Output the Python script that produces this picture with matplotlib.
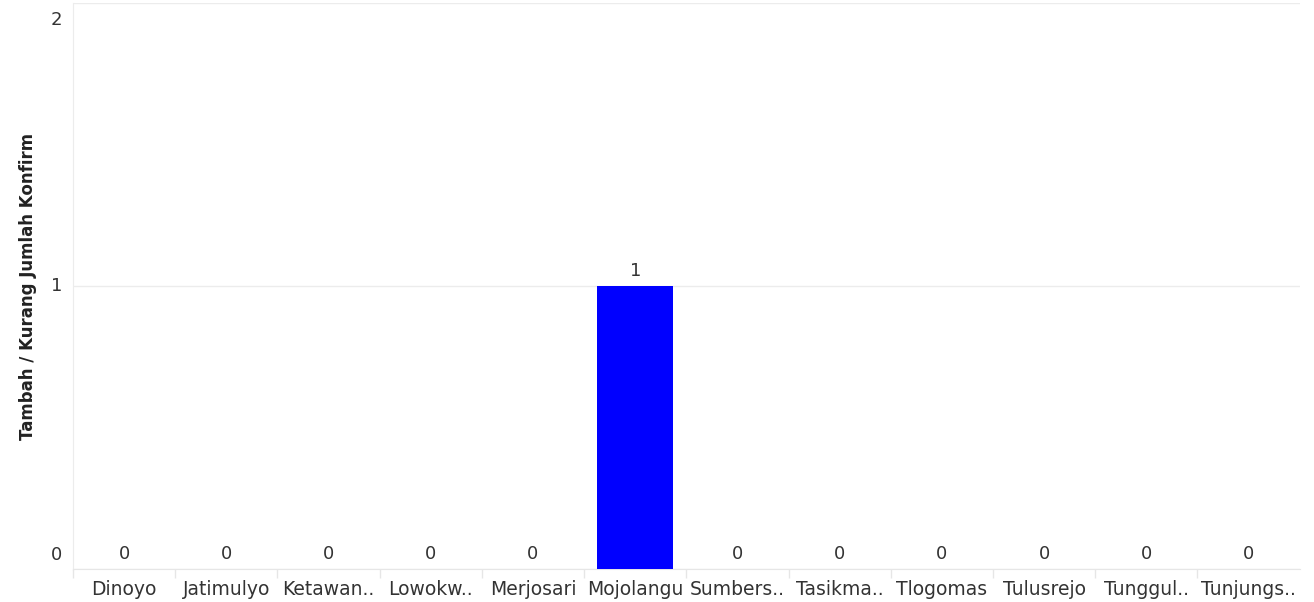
import matplotlib
matplotlib.use('Agg')
import matplotlib.pyplot as plt
import numpy as np

kelurahan = ['Dinoyo', 'Jatimulyo', 'Ketawan..', 'Lowokw..', 'Merjosari', 'Mojolangu',
             'Sumbers..', 'Tasikma..', 'Tlogomas', 'Tulusrejo', 'Tunggul..', 'Tunjungs..']
tambah = [0, 0, 0, 0, 0, 1, 0, 0, 0, 0, 0, 0]
yticks = [0, 1, 2]

fig = plt.figure(figsize=(13.14, 6.02), dpi=100)
ax = fig.add_axes([0.0556, 0.0548, 0.9334, 0.9402])

x = np.arange(len(kelurahan))
ax.bar(x, tambah, width=0.74, color='#0000ff', zorder=3)

for xi, v in zip(x, tambah):
    ax.annotate(str(v), (xi, v), xytext=(0, 4.5), textcoords='offset points',
                ha='center', va='bottom', fontsize=13, color='#333333')

ax.set_xlim(-0.5, len(kelurahan) - 0.5)
ax.set_ylim(0, 2)
ax.set_yticks(yticks)
ax.set_yticklabels([])
ax.set_xticks(x)
ax.set_xticklabels(kelurahan, fontsize=13.5, color='#333333')
ax.tick_params(axis='both', length=0, pad=8)

# y tick labels, nudged like the original (0 up, 2 down)
shifts = [10, 0, -12]
for t, dy in zip(yticks, shifts):
    ax.annotate(str(t), (0, t), xycoords=('axes fraction', 'data'),
                xytext=(-8, dy), textcoords='offset points',
                ha='right', va='center', fontsize=13, color='#333333',
                annotation_clip=False)

ax.grid(axis='y', color='#ececec', linewidth=1, zorder=0)
for s in ['top', 'right']:
    ax.spines[s].set_visible(False)
ax.spines['left'].set_color('#ececec')
ax.spines['bottom'].set_color('#e6e6e6')

# category separators under the axis
bounds = np.arange(len(kelurahan) + 1) - 0.5
ax.vlines(bounds[:-1], -0.016, 0, transform=ax.get_xaxis_transform(),
          color='#e6e6e6', linewidth=1, clip_on=False)

ax.set_ylabel('Tambah / Kurang Jumlah Konfirm', fontsize=12, fontweight='bold',
              color='#222222')
ax.yaxis.set_label_coords(-0.029, 0.5)

fig.savefig('out.png', dpi=100)
